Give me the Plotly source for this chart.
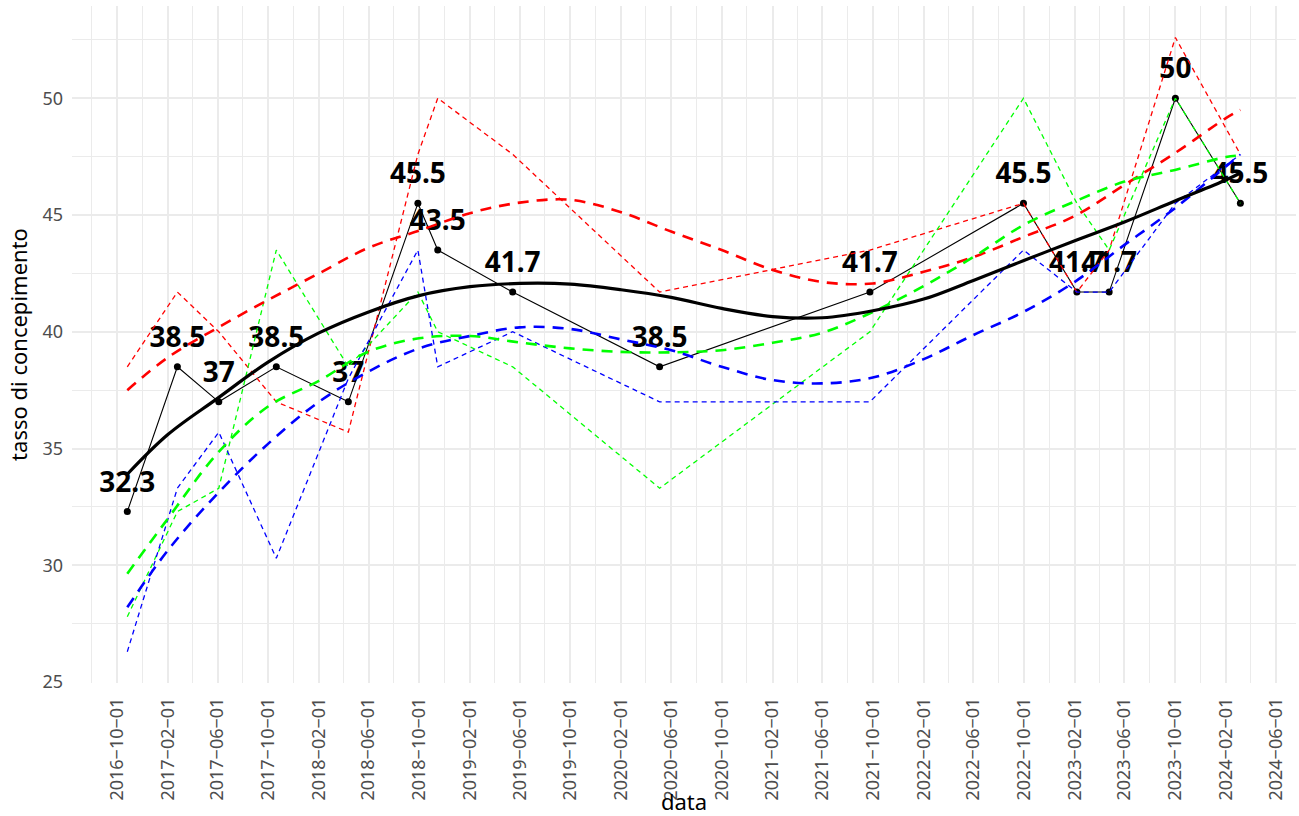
import plotly.graph_objects as go

# ---- data ----
dates = ["2016-10-26", "2017-02-24", "2017-06-04", "2017-10-21", "2018-04-13",
         "2018-09-28", "2018-11-15", "2019-05-15", "2020-05-04", "2021-09-24",
         "2022-09-30", "2023-02-06", "2023-04-25", "2023-10-02", "2024-03-07"]
black = [32.3, 38.5, 37, 38.5, 37, 45.5, 43.5, 41.7, 38.5, 41.7, 45.5, 41.7, 41.7, 50, 45.5]
red = [38.5, 41.7, 40.0, 37.0, 35.7, 47.6, 50.0, 47.6, 41.7, 43.5, 45.5, 41.7, 43.5, 52.6, 47.6]
green = [27.8, 32.3, 33.3, 43.5, 38.5, 41.7, 40.0, 38.5, 33.3, 40.0, 50.0, 45.5, 43.5, 50.0, 45.5]
blue = [26.3, 33.3, 35.7, 30.3, 38.0, 43.5, 38.5, 40.0, 37.0, 37.0, 43.5, 41.7, 41.7, 45.5, 47.6]

smooth_dates = ["2016-10-26", "2017-02-01", "2017-06-01", "2017-10-01", "2018-02-01",
                "2018-06-01", "2018-10-01", "2019-02-01", "2019-06-01", "2019-10-01",
                "2020-02-01", "2020-06-01", "2020-10-01", "2021-02-01", "2021-06-01",
                "2021-10-01", "2022-02-01", "2022-06-01", "2022-10-01", "2023-02-01",
                "2023-06-01", "2023-10-01", "2024-02-01", "2024-03-07"]
smooth_black = [33.9, 35.6, 37.15, 38.7, 39.95, 40.85, 41.55, 41.93, 42.07, 42.04, 41.8, 41.47,
                41.0, 40.65, 40.6, 40.9, 41.4, 42.2, 43.05, 43.9, 44.7, 45.6, 46.5, 46.8]
smooth_red = [37.5, 38.9, 40.17, 41.36, 42.5, 43.6, 44.33, 45.08, 45.53, 45.65, 45.12, 44.29,
              43.5, 42.65, 42.13, 42.07, 42.57, 43.2, 44.07, 44.96, 46.29, 47.65, 49.15, 49.5]
smooth_green = [29.64, 32.0, 34.8, 36.8, 37.9, 39.15, 39.72, 39.82, 39.54, 39.29, 39.14, 39.12,
                39.21, 39.53, 39.96, 40.85, 41.96, 43.2, 44.58, 45.58, 46.43, 46.93, 47.48, 47.55]
smooth_blue = [28.2, 30.64, 33.07, 35.2, 37.0, 38.3, 39.29, 39.82, 40.19, 40.12, 39.67, 39.21,
               38.5, 37.93, 37.79, 38.04, 38.83, 39.86, 40.86, 42.14, 43.72, 45.29, 47.08, 47.58]

tick_vals = ["2016-10-01", "2017-02-01", "2017-06-01", "2017-10-01", "2018-02-01", "2018-06-01",
             "2018-10-01", "2019-02-01", "2019-06-01", "2019-10-01", "2020-02-01", "2020-06-01",
             "2020-10-01", "2021-02-01", "2021-06-01", "2021-10-01", "2022-02-01", "2022-06-01",
             "2022-10-01", "2023-02-01", "2023-06-01", "2023-10-01", "2024-02-01", "2024-06-01"]
tick_labels = [d.replace("-", "\u2212") for d in tick_vals]

x_title = "data"
y_title = "tasso di concepimento"

# ---- layout constants ----
Y_LO, Y_HI = 24.96, 53.95
M_T, M_B = 6, 133
PLOT_H = 816 - M_T - M_B
LABEL_SHIFT = 27 * (Y_HI - Y_LO) / PLOT_H   # labels sit ~27px above the points

FONT = "Noto Sans"
GRID = "#EBEBEB"

fig = go.Figure()

# labels (drawn first, below the lines)
fig.add_trace(go.Scatter(
    x=dates, y=black, mode="text", text=[f"{v:g}" for v in black],
    textposition="middle center",
    textfont=dict(family=FONT, size=28, color="black", weight="bold"),
    yaxis="y", hoverinfo="skip", cliponaxis=False))

# black observed series
fig.add_trace(go.Scatter(
    x=dates, y=black, mode="lines+markers",
    line=dict(color="black", width=1.1),
    marker=dict(color="black", size=7), yaxis="y2"))

series = [(red, smooth_red, "#FF0000"), (green, smooth_green, "#00FF00"), (blue, smooth_blue, "#0000FF")]
for vals, sm, col in series:
    fig.add_trace(go.Scatter(
        x=dates, y=vals, mode="lines",
        line=dict(color=col, width=1.3, dash="5px,4px"), yaxis="y2"))
for vals, sm, col in series:
    fig.add_trace(go.Scatter(
        x=smooth_dates, y=sm, mode="lines",
        line=dict(color=col, width=2.6, dash="11px,8px", shape="spline", smoothing=1.0),
        yaxis="y2"))

fig.add_trace(go.Scatter(
    x=smooth_dates, y=smooth_black, mode="lines",
    line=dict(color="black", width=3.2, shape="spline", smoothing=1.0), yaxis="y2"))

fig.update_layout(
    width=1299, height=816,
    margin=dict(l=72, r=3, t=M_T, b=M_B, autoexpand=False),
    plot_bgcolor="white", paper_bgcolor="white",
    showlegend=False,
    font=dict(family=FONT),
    xaxis=dict(
        type="date", range=["2016-06-14 10:00", "2024-07-19 09:00"], automargin=False,
        tickmode="array", tickvals=tick_vals, ticktext=tick_labels, tickangle=-90,
        tickfont=dict(family=FONT, size=18, color="#4D4D4D"),
        showgrid=True, gridcolor=GRID, gridwidth=1.6,
        minor=dict(tickmode="linear", tick0="2016-08-01", dtick="M4",
                   showgrid=True, gridcolor=GRID, gridwidth=0.8),
        zeroline=False, showline=False, ticks="", ticklabelstandoff=10,
        title=dict(text=x_title, font=dict(family=FONT, size=22, color="black"), standoff=0),
    ),
    yaxis=dict(range=[Y_LO - LABEL_SHIFT, Y_HI - LABEL_SHIFT], visible=False,
               showgrid=False, zeroline=False, automargin=False),
    yaxis2=dict(
        overlaying="y", side="left", anchor="x", automargin=False,
        range=[Y_LO, Y_HI], tick0=0, dtick=5,
        tickfont=dict(family=FONT, size=18, color="#4D4D4D"),
        showgrid=True, gridcolor=GRID, gridwidth=1.6,
        minor=dict(tick0=0, dtick=2.5, showgrid=True, gridcolor=GRID, gridwidth=0.8),
        zeroline=False, showline=False, ticks="", ticklabelstandoff=8,
        title=dict(text=y_title, font=dict(family=FONT, size=22, color="black"), standoff=8),
    ),
)

# remove the page's default body margin so the figure sits at the window's corner
fig.write_html("out.html", config={"displayModeBar": False},
               post_script="document.body.style.margin='0';document.body.style.overflow='hidden';")
